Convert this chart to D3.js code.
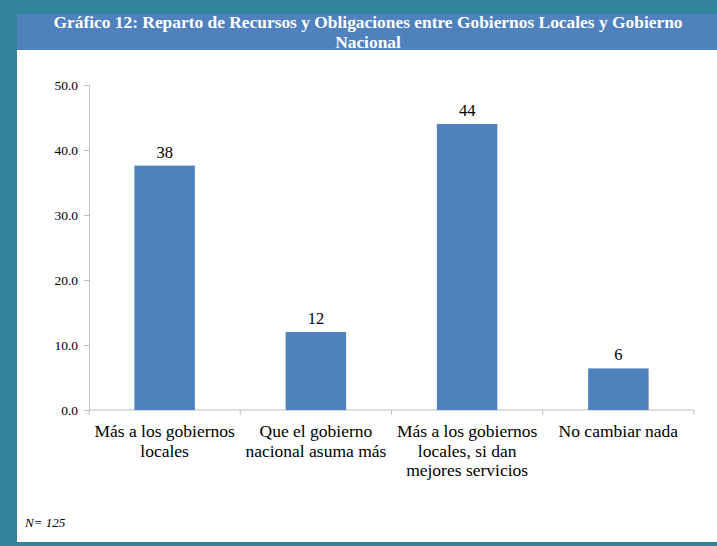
<!DOCTYPE html>
<html>
<head>
<meta charset="utf-8">
<script src="https://cdn.jsdelivr.net/npm/d3@7"></script>
<style>
  body { margin: 0; background: #fff; }
  svg text, svg tspan { font-family: "Liberation Serif", "Times New Roman", serif !important; }
</style>
</head>
<body>
<script>
// data
var categories = [
    ["Más a los gobiernos", "locales"],
    ["Que el gobierno", "nacional asuma más"],
    ["Más a los gobiernos", "locales, si dan", "mejores servicios"],
    ["No cambiar nada"]
];
var values = [37.6, 12.0, 44.0, 6.4];
var valueLabels = ["38", "12", "44", "6"];
var yTicks = [0, 10, 20, 30, 40, 50];

var W = 717, H = 546;
var svg = d3.select("body").append("svg")
    .attr("width", W)
    .attr("height", H);

// frame
svg.append("rect").attr("x", 0).attr("y", 0).attr("width", W).attr("height", H).attr("fill", "#31849b");
svg.append("rect").attr("x", 17).attr("y", 14).attr("width", W - 17).attr("height", 528).attr("fill", "#fff");
svg.append("rect").attr("x", 17).attr("y", 14).attr("width", W - 17).attr("height", 36).attr("fill", "#4f81bd");

svg.append("text")
    .attr("x", 368).attr("y", 27.5)
    .attr("text-anchor", "middle")
    .attr("fill", "#fff")
    .attr("font-weight", "bold")
    .attr("font-size", "17.4px")
    .text("Gráfico 12: Reparto de Recursos y Obligaciones entre Gobiernos Locales y Gobierno");
svg.append("text")
    .attr("x", 368).attr("y", 47.5)
    .attr("text-anchor", "middle")
    .attr("fill", "#fff")
    .attr("font-weight", "bold")
    .attr("font-size", "17.4px")
    .text("Nacional");

var x = d3.scaleBand()
    .domain(d3.range(categories.length))
    .range([89, 694])
    .paddingInner(0.6)
    .paddingOuter(0.3);

var y = d3.scaleLinear()
    .domain([0, 50])
    .range([410, 85]);

// y axis
var yAxis = svg.append("g")
    .attr("transform", "translate(89,0)")
    .call(d3.axisLeft(y).tickValues(yTicks).tickSize(5).tickPadding(6).tickFormat(d3.format(".1f")));
yAxis.selectAll("line, path").attr("stroke", "#bfbfbf");
yAxis.selectAll("text").attr("font-size", "13.5px").attr("fill", "#000");

// x axis line with ticks at band boundaries
var step = x.step();
var bounds = d3.range(categories.length + 1).map(function (i) { return 89 + i * step; });
svg.append("line")
    .attr("x1", 89).attr("x2", 694).attr("y1", 410).attr("y2", 410)
    .attr("stroke", "#bfbfbf");
svg.selectAll(".xtick")
    .data(bounds)
    .enter()
    .append("line")
    .attr("x1", function (d) { return d; })
    .attr("x2", function (d) { return d; })
    .attr("y1", 410).attr("y2", 415)
    .attr("stroke", "#bfbfbf");

// bars
svg.selectAll(".bar")
    .data(values)
    .enter()
    .append("rect")
    .attr("x", function (d, i) { return x(i); })
    .attr("y", function (d) { return y(d); })
    .attr("width", x.bandwidth())
    .attr("height", function (d) { return y(0) - y(d); })
    .attr("fill", "#4f81bd");

// value labels
svg.selectAll(".vlab")
    .data(values)
    .enter()
    .append("text")
    .attr("x", function (d, i) { return x(i) + x.bandwidth() / 2; })
    .attr("y", function (d) { return y(d) - 8; })
    .attr("text-anchor", "middle")
    .attr("font-size", "16.5px")
    .attr("fill", "#000")
    .text(function (d, i) { return valueLabels[i]; });

// category labels
categories.forEach(function (lines, i) {
    var t = svg.append("text")
        .attr("text-anchor", "middle")
        .attr("font-size", "17.5px")
        .attr("fill", "#000");
    lines.forEach(function (s, j) {
        t.append("tspan")
            .attr("x", x(i) + x.bandwidth() / 2)
            .attr("y", 437 + j * 19.5)
            .text(s);
    });
});

svg.append("text")
    .attr("x", 25).attr("y", 527)
    .attr("font-size", "13px")
    .attr("font-style", "italic")
    .text("N= 125");
</script>
</body>
</html>
